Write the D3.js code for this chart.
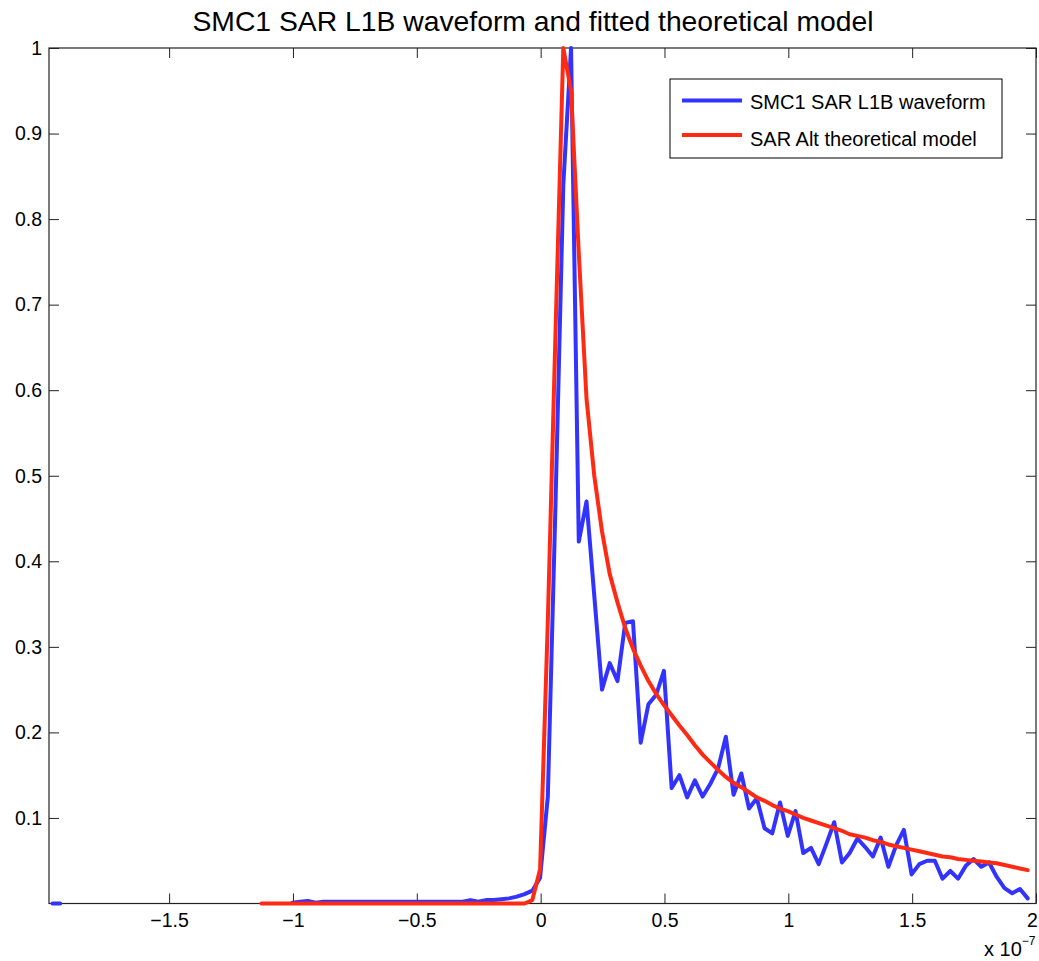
<!DOCTYPE html>
<html>
<head>
<meta charset="utf-8">
<script src="https://cdn.jsdelivr.net/npm/d3@7"></script>
<style>
  body { margin: 0; background: #fff; }
  text { font-family: Helvetica, "Liberation Sans", Arial, sans-serif; fill: #000; }
</style>
</head>
<body>
<svg id="chart" width="1039" height="961"></svg>
<script>
// range gates, in units of 1e-7 s
var gateStart = -1.971;
var gateStep = 0.03125;

// SMC1 SAR L1B waveform (normalised power), one value per gate, null = not plotted
var waveform = [
  0, 0, null, null, null, null, null, null, null, null,                          // 0-9
  null, null, null, null, null, null, null, null, null, null,                    // 10-19
  null, null, null, null, null, null, null, null, null, null,                    // 20-29
  null, 0.001, 0.002, 0.003, 0.001, 0.002, 0.002, 0.002, 0.002, 0.002,           // 30-39
  0.002, 0.002, 0.002, 0.002, 0.002, 0.002, 0.002, 0.002, 0.002, 0.002,          // 40-49
  0.002, 0.002, 0.002, 0.002, 0.004, 0.002, 0.004, 0.004, 0.005, 0.006,          // 50-59
  0.008, 0.011, 0.015, 0.030, 0.125, 0.470, 0.840, 1.000, 0.423, 0.470,          // 60-69
  0.360, 0.250, 0.281, 0.260, 0.328, 0.330, 0.188, 0.233, 0.244, 0.272,          // 70-79
  0.135, 0.150, 0.124, 0.144, 0.125, 0.140, 0.158, 0.195, 0.127, 0.152,          // 80-89
  0.111, 0.123, 0.088, 0.082, 0.118, 0.079, 0.108, 0.059, 0.065, 0.046,          // 90-99
  0.070, 0.095, 0.048, 0.059, 0.076, 0.066, 0.055, 0.077, 0.043, 0.068,          // 100-109
  0.086, 0.034, 0.046, 0.050, 0.050, 0.029, 0.038, 0.029, 0.044, 0.052,          // 110-119
  0.043, 0.048, 0.031, 0.018, 0.012, 0.017, 0.006                               // 120-126
];

// fitted SAR altimetry theoretical model
var model = [
  null, null, null, null, null, null, null, null, null, null,                    // 0-9
  null, null, null, null, null, null, null, null, null, null,                    // 10-19
  null, null, null, null, null, null, null, 0, 0, 0,                             // 20-29
  0, 0, 0, 0, 0, 0, 0, 0, 0, 0,                                                  // 30-39
  0, 0, 0, 0, 0, 0, 0, 0, 0, 0,                                                  // 40-49
  0, 0, 0, 0, 0, 0, 0, 0, 0, 0,                                                  // 50-59
  0, 0, 0.004, 0.040, 0.330, 0.670, 1.000, 0.950, 0.760, 0.590,                  // 60-69
  0.500, 0.435, 0.385, 0.352, 0.322, 0.298, 0.278, 0.260, 0.245, 0.232,          // 70-79
  0.220, 0.208, 0.197, 0.185, 0.174, 0.165, 0.156, 0.148, 0.141, 0.136,          // 80-89
  0.130, 0.124, 0.120, 0.115, 0.111, 0.108, 0.104, 0.100, 0.097, 0.094,          // 90-99
  0.091, 0.088, 0.085, 0.081, 0.079, 0.077, 0.074, 0.072, 0.069, 0.067,          // 100-109
  0.065, 0.063, 0.061, 0.059, 0.057, 0.055, 0.054, 0.052, 0.051, 0.050,          // 110-119
  0.049, 0.048, 0.047, 0.045, 0.043, 0.041, 0.039                               // 120-126
];

var xTicks = [-1.5, -1, -0.5, 0, 0.5, 1, 1.5, 2];
var yTicks = [0.1, 0.2, 0.3, 0.4, 0.5, 0.6, 0.7, 0.8, 0.9, 1];
var seriesNames = ["SMC1 SAR L1B waveform", "SAR Alt theoretical model"];
var seriesColors = ["#3333ff", "#ff2a14"];

var plotL = 49, plotR = 1036, plotT = 48, plotB = 903.5;

var svg = d3.select("#chart");

var x = d3.scaleLinear().domain([-1.985, 2]).range([plotL, plotR]);
var y = d3.scaleLinear().domain([0, 1]).range([plotB, plotT]);

var gates = waveform.map(function(d, i) { return gateStart + i * gateStep; });

// axes: ticks point inwards on all four sides
var fmt = d3.format("");
var xAxisG = svg.append("g")
  .attr("transform", "translate(0," + plotB + ")")
  .call(d3.axisBottom(x).tickValues(xTicks).tickSize(-10).tickPadding(10).tickFormat(fmt))
  .call(function(g) { g.select(".domain").remove(); });
svg.append("g")
  .attr("transform", "translate(0," + plotT + ")")
  .call(d3.axisTop(x).tickValues(xTicks).tickSize(-10).tickFormat(""))
  .call(function(g) { g.select(".domain").remove(); });
svg.append("g")
  .attr("transform", "translate(" + plotL + ",0)")
  .call(d3.axisLeft(y).tickValues(yTicks).tickSize(-10).tickPadding(7).tickFormat(fmt))
  .call(function(g) { g.select(".domain").remove(); });
svg.append("g")
  .attr("transform", "translate(" + plotR + ",0)")
  .call(d3.axisRight(y).tickValues(yTicks).tickSize(-10).tickFormat(""))
  .call(function(g) { g.select(".domain").remove(); });

svg.selectAll(".tick line").attr("stroke", "#222");
svg.selectAll(".tick text").attr("font-size", 19.5).attr("font-family", "Helvetica, 'Liberation Sans', Arial, sans-serif");
// last x label sits on the figure edge; nudge it inside
xAxisG.selectAll(".tick text").filter(function(d) { return d === xTicks[xTicks.length - 1]; })
  .attr("dx", -4);

// plot box
svg.append("rect")
  .attr("x", plotL).attr("y", plotT)
  .attr("width", plotR - plotL).attr("height", plotB - plotT)
  .attr("fill", "none").attr("stroke", "#222").attr("stroke-width", 1.2);

// lines
var line = d3.line()
  .defined(function(d) { return d[1] != null; })
  .x(function(d) { return x(d[0]); })
  .y(function(d) { return y(d[1]); });

[waveform, model].forEach(function(vals, k) {
  var pts = vals.map(function(v, i) { return [gates[i], v]; });
  svg.append("path")
    .datum(pts)
    .attr("d", line)
    .attr("fill", "none")
    .attr("stroke", seriesColors[k])
    .attr("stroke-width", 4)
    .attr("stroke-linejoin", "round")
    .attr("stroke-linecap", "round");
});

// title
svg.append("text")
  .attr("x", 533)
  .attr("y", 31)
  .attr("text-anchor", "middle")
  .attr("font-size", 28.3)
  .text("SMC1 SAR L1B waveform and fitted theoretical model");

// exponent label
var ex = svg.append("text")
  .attr("x", 984)
  .attr("y", 956)
  .attr("font-size", 20);
ex.append("tspan").text("x 10");
ex.append("tspan").attr("dy", -11).attr("font-size", 12).text("\u22127");

// legend
var lg = svg.append("g").attr("transform", "translate(670,79)");
lg.append("rect")
  .attr("width", 332).attr("height", 79)
  .attr("fill", "#fff").attr("stroke", "#000").attr("stroke-width", 1);
seriesNames.forEach(function(name, k) {
  var yy = 21.5 + k * 34.5;
  lg.append("line")
    .attr("x1", 12).attr("x2", 72)
    .attr("y1", yy).attr("y2", yy)
    .attr("stroke", seriesColors[k]).attr("stroke-width", 4);
  lg.append("text")
    .attr("x", 80).attr("y", 30 + k * 37)
    .attr("font-size", 20)
    .text(name);
});
</script>
</body>
</html>
